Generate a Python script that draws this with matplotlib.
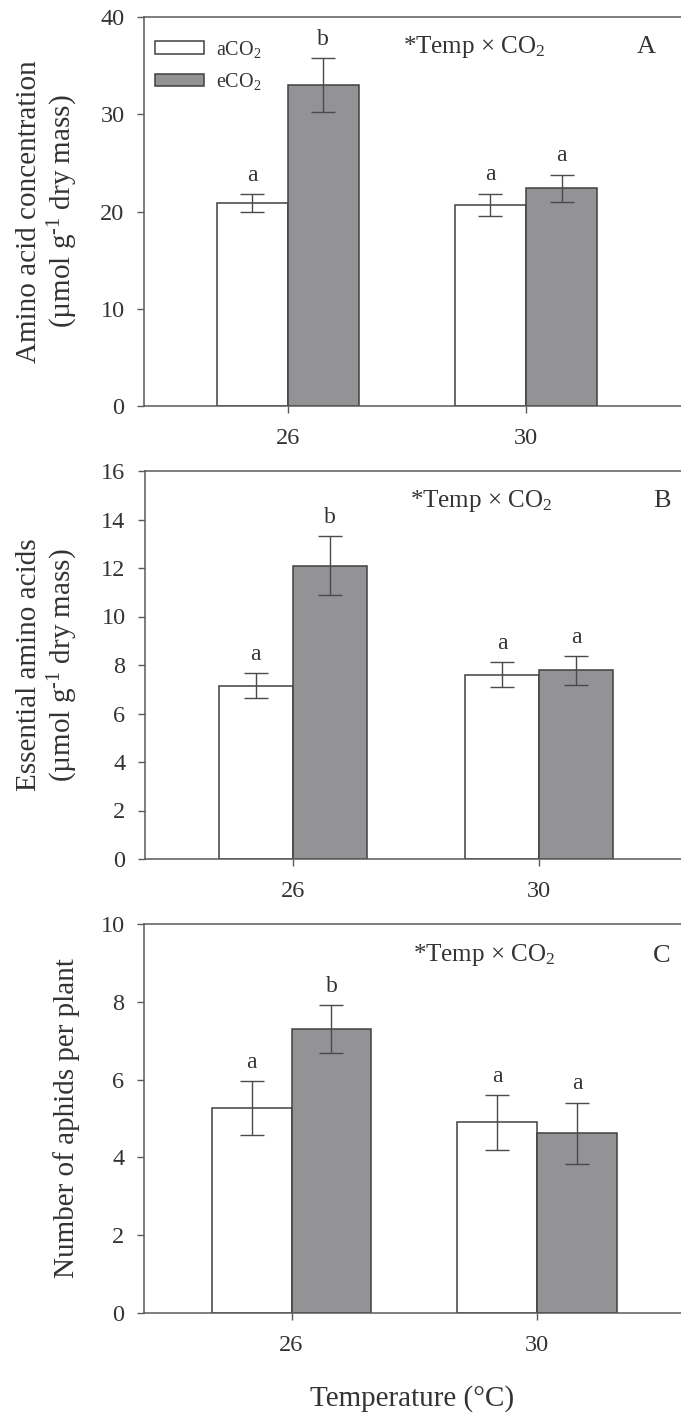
import matplotlib
matplotlib.use("Agg")
import matplotlib.pyplot as plt
import numpy as np

plt.rcParams['font.family'] = ['Liberation Serif', 'DejaVu Serif']
plt.rcParams['mathtext.fontset'] = 'custom'
plt.rcParams['mathtext.rm'] = 'Liberation Serif'
plt.rcParams['mathtext.it'] = 'Liberation Serif:italic'
plt.rcParams['mathtext.bf'] = 'Liberation Serif:bold'

# ---------------- data ----------------
temps = ['26', '30']
series = ['aCO$_2$', 'eCO$_2$']

amino_a = [20.9, 20.7]
amino_a_err = [0.9, 1.15]
amino_e = [33.0, 22.4]
amino_e_err = [2.75, 1.4]
amino_letters_a = ['a', 'a']
amino_letters_e = ['b', 'a']

ess_a = [7.15, 7.6]
ess_a_err = [0.51, 0.52]
ess_e = [12.1, 7.78]
ess_e_err = [1.2, 0.6]
ess_letters_a = ['a', 'a']
ess_letters_e = ['b', 'a']

aph_a = [5.27, 4.9]
aph_a_err = [0.69, 0.71]
aph_e = [7.3, 4.62]
aph_e_err = [0.62, 0.79]
aph_letters_a = ['a', 'a']
aph_letters_e = ['b', 'a']

ylabels = ['Amino acid concentration\n(\u00b5mol g$^{\\text{-1}}$ dry mass)',
           'Essential amino acids\n(\u00b5mol g$^{\\text{-1}}$ dry mass)',
           'Number of aphids per plant']
yticks_list = [[0, 10, 20, 30, 40], [0, 2, 4, 6, 8, 10, 12, 14, 16], [0, 2, 4, 6, 8, 10]]
ylims = [(0, 40), (0, 16), (0, 10)]
panel_letters = ['A', 'B', 'C']
interaction = '*Temp \u00d7 CO$_2$'
xlabel = 'Temperature (\u00b0C)'

# ---------------- layout ----------------
W, H = 681, 1416
fig = plt.figure(figsize=(W / 100, H / 100), dpi=100)

def fx(x):
    return x / W

def fy(y):
    return 1 - y / H

TXT = '#333333'
SP = '#5a5a5a'
GREY = '#939396'
EDGE = '#404040'

# per-panel geometry (pixels)
panels = [
    dict(top=17, bottom=406, left=144, tick0=287.7, spacing=238.3, barw=0.298,
         ylab_x=48, inter_x=403, inter_base=53, letter_x=637, letter_base=53),
    dict(top=471, bottom=859, left=145, tick0=292.7, spacing=246.3, barw=0.300,
         ylab_x=48, inter_x=410, inter_base=507, letter_x=653, letter_base=507),
    dict(top=924, bottom=1313, left=144, tick0=291.5, spacing=245.5, barw=0.325,
         ylab_x=67, inter_x=413, inter_base=961, letter_x=653, letter_base=962),
]
data = [
    (amino_a, amino_a_err, amino_e, amino_e_err, amino_letters_a, amino_letters_e),
    (ess_a, ess_a_err, ess_e, ess_e_err, ess_letters_a, ess_letters_e),
    (aph_a, aph_a_err, aph_e, aph_e_err, aph_letters_a, aph_letters_e),
]

RIGHT = 720
for i, (g, d) in enumerate(zip(panels, data)):
    a_vals, a_err, e_vals, e_err, la, le = d
    ax = fig.add_axes([fx(g['left']), fy(g['bottom']),
                       (RIGHT - g['left']) / W, (g['bottom'] - g['top']) / H])
    x = np.arange(len(temps))
    w = g['barw']
    ax.bar(x, a_vals, width=-w, align='edge', color='white', edgecolor=EDGE,
           linewidth=1.1, label=series[0], zorder=2)
    ax.bar(x, e_vals, width=w, align='edge', color=GREY, edgecolor=EDGE,
           linewidth=1.1, label=series[1], zorder=2)
    ax.errorbar(x - w / 2, a_vals, yerr=a_err, fmt='none', ecolor='#4a4a4a',
                elinewidth=1.0, capsize=8.5, capthick=1.0, zorder=3)
    ax.errorbar(x + w / 2, e_vals, yerr=e_err, fmt='none', ecolor='#4a4a4a',
                elinewidth=1.0, capsize=8.5, capthick=1.0, zorder=3)
    for xi, v, er, lt in zip(x - w / 2, a_vals, a_err, la):
        ax.annotate(lt, (xi, v + er), xytext=(0, 9.5), textcoords='offset points',
                    ha='center', va='baseline', fontsize=17, color=TXT)
    for xi, v, er, lt in zip(x + w / 2, e_vals, e_err, le):
        ax.annotate(lt, (xi, v + er), xytext=(0, 9.5), textcoords='offset points',
                    ha='center', va='baseline', fontsize=17, color=TXT)

    left_lim = -(g['tick0'] - g['left']) / g['spacing']
    right_lim = (RIGHT - g['tick0']) / g['spacing']
    ax.set_xlim(left_lim, right_lim)
    ax.set_ylim(*ylims[i])
    ax.set_xticks(x)
    ax.set_xticklabels(temps)
    ax.set_yticks(yticks_list[i])
    ax.tick_params(axis='both', direction='out', length=5, width=1, color=SP,
                   labelsize=17.5, labelcolor=TXT)
    ax.tick_params(axis='y', pad=9)
    ax.tick_params(axis='x', pad=11)
    for s in ax.spines.values():
        s.set_color(SP)
        s.set_linewidth(1.1)

    fig.text(fx(g['ylab_x']), fy((g['top'] + g['bottom']) / 2), ylabels[i],
             rotation=90, ha='center', va='center', fontsize=21, color=TXT,
             linespacing=1.15)
    fig.text(fx(g['inter_x']), fy(g['inter_base']), interaction, ha='left',
             va='baseline', fontsize=18, color=TXT)
    fig.text(fx(g['letter_x']), fy(g['letter_base']), panel_letters[i], ha='left',
             va='baseline', fontsize=19, color=TXT)

    if i == 0:
        leg = ax.legend(loc='upper left', bbox_to_anchor=(0.005, 0.965), frameon=False,
                        fontsize=14.5, handlelength=2.45, handleheight=0.55,
                        handletextpad=0.6, labelspacing=0.55, borderaxespad=0.0)
        for t in leg.get_texts():
            t.set_color(TXT)

fig.text(fx(412), fy(1399), xlabel, ha='center', va='center', fontsize=21, color=TXT)

fig.savefig('out.png', dpi=100, facecolor='white')
